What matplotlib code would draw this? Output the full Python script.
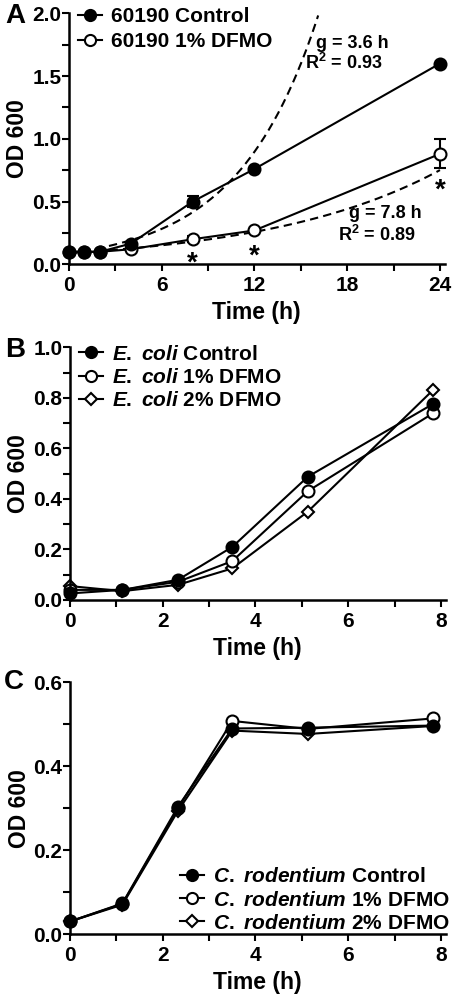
import numpy as np
import matplotlib
matplotlib.use("Agg")
import matplotlib.pyplot as plt
from matplotlib.ticker import MultipleLocator, FormatStrFormatter
from matplotlib.lines import Line2D

plt.rcParams["font.family"] = ["Liberation Sans", "DejaVu Sans"]
plt.rcParams["font.weight"] = "bold"
plt.rcParams["mathtext.fontset"] = "custom"
plt.rcParams["mathtext.rm"] = "Liberation Sans:bold"
plt.rcParams["mathtext.bf"] = "Liberation Sans:bold"
plt.rcParams["mathtext.it"] = "Liberation Sans:italic:bold"

# --- Panel A: 60190 ---
time_a = [0, 1, 2, 4, 8, 12, 24]
ctrl_a = [0.10, 0.10, 0.10, 0.165, 0.50, 0.76, 1.60]
ctrl_a_err = [0, 0, 0, 0, 0.045, 0, 0]
dfmo_a = [0.10, 0.10, 0.10, 0.12, 0.20, 0.27, 0.88]
dfmo_a_err = [0, 0, 0, 0, 0.025, 0, 0.115]
# exponential fits (doubling time g in h, start OD)
g_ctrl, a_ctrl = 3.6, 0.089
g_dfmo, a_dfmo = 7.8, 0.089
star_x = [8, 12, 24]
star_y = [0.005, 0.065, 0.585]

# --- Panel B: E. coli ---
time_b = [0, 1.13, 2.33, 3.5, 5.13, 7.83]
ctrl_b = [0.026, 0.040, 0.080, 0.210, 0.488, 0.776]
dfmo1_b = [0.040, 0.040, 0.072, 0.154, 0.431, 0.739]
dfmo2_b = [0.055, 0.035, 0.060, 0.125, 0.350, 0.831]

# --- Panel C: C. rodentium ---
time_c = [0, 1.13, 2.33, 3.5, 5.13, 7.83]
ctrl_c = [0.030, 0.073, 0.304, 0.490, 0.492, 0.497]
dfmo1_c = [0.030, 0.072, 0.300, 0.508, 0.489, 0.514]
dfmo2_c = [0.030, 0.070, 0.294, 0.485, 0.477, 0.496]

fig = plt.figure(figsize=(4.56, 9.96), dpi=100)
axA = fig.add_axes([0.1513, 0.7346, 0.8237, 0.2520])
axB = fig.add_axes([0.1535, 0.3976, 0.8237, 0.2537])
axC = fig.add_axes([0.1535, 0.0622, 0.8237, 0.2527])

tick_fs = 15
lab_fs = 16.5


def style(ax, xmax, xmaj, xmin, ymax, ymaj, ymin):
    ax.set_xlim(0, xmax)
    ax.set_ylim(0, ymax)
    ax.xaxis.set_major_locator(MultipleLocator(xmaj))
    ax.xaxis.set_minor_locator(MultipleLocator(xmin))
    ax.yaxis.set_major_locator(MultipleLocator(ymaj))
    ax.yaxis.set_minor_locator(MultipleLocator(ymin))
    ax.yaxis.set_major_formatter(FormatStrFormatter("%.1f"))
    for s in ["top", "right"]:
        ax.spines[s].set_visible(False)
    for s in ["left", "bottom"]:
        ax.spines[s].set_linewidth(1.8)
    ax.tick_params(which="both", direction="out", length=5, width=1.5, labelsize=tick_fs)
    ax.tick_params(axis="x", pad=3.5)
    ax.tick_params(axis="y", pad=0.5)
    ax.set_xlabel("Time (h)", fontsize=lab_fs, fontweight="bold", labelpad=4.5)
    ax.set_ylabel("OD 600", fontsize=lab_fs, fontweight="bold", labelpad=2)
    ax.patch.set_alpha(0)


mk = dict(markersize=8.6, markeredgewidth=1.5, color="black", linewidth=1.5, clip_on=False)
dk = dict(mk, markersize=6.5, marker="D", markerfacecolor="white")


def handles(specs):
    out = []
    for spec in specs:
        out.append(Line2D([], [], color="black", linewidth=1.5, markeredgewidth=1.5, **spec))
    return out


leg_kw = dict(frameon=False, fontsize=tick_fs, handlelength=1.15, handletextpad=0.4,
              borderpad=0, borderaxespad=0)
filled = dict(marker="o", markersize=8, markerfacecolor="black")
open_c = dict(marker="o", markersize=8, markerfacecolor="white")
open_d = dict(marker="D", markersize=6, markerfacecolor="white")

# Panel A
style(axA, 24.3, 6, 3, 2.0, 0.5, 0.25)
t_fit = np.linspace(0, 24, 400)
fit_c = a_ctrl * 2 ** (t_fit / g_ctrl)
fit_d = a_dfmo * 2 ** (t_fit / g_dfmo)
axA.plot(t_fit[fit_c <= 2.0], fit_c[fit_c <= 2.0], "k--", lw=1.5, dashes=(4, 2.5))
axA.plot(t_fit, fit_d, "k--", lw=1.5, dashes=(4, 2.5))
axA.errorbar(time_a, dfmo_a, yerr=dfmo_a_err, marker="o", markerfacecolor="white",
             capsize=4.3, capthick=1.5, elinewidth=1.5, **mk)
axA.errorbar(time_a, ctrl_a, yerr=ctrl_a_err, marker="o", markerfacecolor="black",
             capsize=4.3, capthick=1.5, elinewidth=1.5, **mk)
for sx, sy in zip(star_x, star_y):
    axA.text(sx, sy, "*", fontsize=20, ha="center", va="center", fontweight="bold")
axA.text(18.3, 1.763, "g = 3.6 h", fontsize=13, ha="center", va="center")
axA.text(17.75, 1.604, "R$^2$ = 0.93", fontsize=13, ha="center", va="center")
axA.text(20.45, 0.409, "g = 7.8 h", fontsize=13, ha="center", va="center")
axA.text(19.9, 0.233, "R$^2$ = 0.89", fontsize=13, ha="center", va="center")
axA.legend(handles([filled, open_c]), ["60190 Control", "60190 1% DFMO"],
           loc="upper left", bbox_to_anchor=(0.025, 1.025), labelspacing=0.3, **leg_kw)

# Panel B
style(axB, 8.1, 2, 1, 1.0, 0.2, 0.1)
axB.plot(time_b, dfmo2_b, **dk)
axB.plot(time_b, dfmo1_b, marker="o", markerfacecolor="white", **mk)
axB.plot(time_b, ctrl_b, marker="o", markerfacecolor="black", **mk)
axB.legend(handles([filled, open_c, open_d]),
           [r"$\mathit{E.}$ $\mathit{coli}$ Control",
            r"$\mathit{E.}$ $\mathit{coli}$ 1% DFMO",
            r"$\mathit{E.}$ $\mathit{coli}$ 2% DFMO"],
           loc="upper left", bbox_to_anchor=(0.025, 1.01), labelspacing=0.2, **leg_kw)

# Panel C
style(axC, 8.1, 2, 1, 0.6, 0.2, 0.1)
axC.plot(time_c, dfmo2_c, **dk)
axC.plot(time_c, dfmo1_c, marker="o", markerfacecolor="white", **mk)
axC.plot(time_c, ctrl_c, marker="o", markerfacecolor="black", **mk)
axC.legend(handles([filled, open_c, open_d]),
           [r"$\mathit{C.}$ $\mathit{rodentium}$ Control",
            r"$\mathit{C.}$ $\mathit{rodentium}$ 1% DFMO",
            r"$\mathit{C.}$ $\mathit{rodentium}$ 2% DFMO"],
           loc="lower right", bbox_to_anchor=(1.01, 0.005), labelspacing=0.2, **leg_kw)

for lbl, (px, py) in zip("ABC", [(15, 16), (15, 350), (14, 682)]):
    fig.text(px / 456, 1 - py / 996, lbl, fontsize=20, fontweight="bold", ha="center", va="center")

fig.savefig("out.png", dpi=100)
